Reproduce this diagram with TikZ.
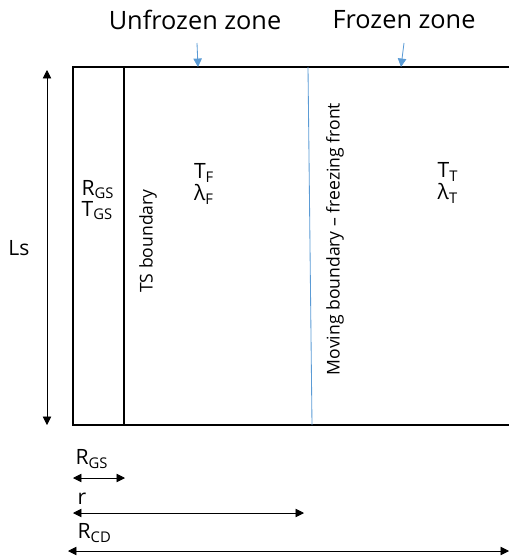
\documentclass[tikz,border=0pt]{standalone}
\usepackage{fontspec}
\setmainfont{Open Sans}
\usetikzlibrary{arrows.meta, positioning}
\definecolor{frontblue}{HTML}{5B9BD5}
\tikzset{
	lbl/.style={font=\fontsize{15}{17}\selectfont, inner sep=1pt},
	zonelbl/.style={font=\fontsize{18}{20}\selectfont, inner sep=1pt},
	sidelbl/.style={font=\fontsize{12.5}{14}\selectfont, rotate=90, inner sep=1pt},
	wall/.style={draw=black, line width=0.9pt},
	dimarrow/.style={{Triangle[length=6pt,width=6pt]}-{Triangle[length=6pt,width=6pt]}, line width=0.5pt},
	zonearrow/.style={-{Triangle[length=6pt,width=6pt]}, frontblue, line width=0.6pt}
}
\begin{document}
\begin{tikzpicture}[x=0.025cm, y=-0.025cm]
	\useasboundingbox (0,0) rectangle (509,559);
	
	%% ---- Domain corners ----
	\coordinate (tl) at (73,67);
	\coordinate (bl) at (73,425);
	\coordinate (tr) at (509,67);
	\coordinate (br) at (509,425);
	\coordinate (ts top) at (124,67);
	\coordinate (ts bot) at (124,425);
	\coordinate (mf top) at (308,67);
	\coordinate (mf bot) at (312,425);
	
	%% ---- Domain outline ----
	\draw[wall] (tr) -- (tl) -- (bl) -- (br);
	\draw[wall] (ts top) -- (ts bot);
	\draw[frontblue, line width=0.6pt] (mf top) -- (mf bot);
	
	%% ---- Zone labels (top) ----
	\node[zonelbl] (unfrozen) at (195,20) {Unfrozen zone};
	\node[zonelbl] (frozen) at (404,20) {Frozen zone};
	\coordinate (uf tip) at (198,67);
	\coordinate (fz tip) at (401,67);
	\coordinate (uf tail) at (197,43);
	\coordinate (fz tail) at (404,43);
	\draw[zonearrow] (uf tail) -- (uf tip);
	\draw[zonearrow] (fz tail) -- (fz tip);
	
	%% ---- Properties in each zone ----
	\node[lbl, align=left] (gs) at (98,200) {R\textsubscript{GS}\\[-2pt]T\textsubscript{GS}};
	\node[lbl, align=left] (uf) at (204,184) {T\textsubscript{F}\\[-1pt]λ\textsubscript{F}};
	\node[lbl, align=left] (fz) at (448,183) {T\textsubscript{T}\\[-1pt]λ\textsubscript{T}};
	
	%% ---- Boundary labels ----
	\node[sidelbl] (tsb) at (148,241) {TS boundary};
	\node[sidelbl] (mfb) at (335,239) {Moving boundary -- freezing front};
	
	%% ---- Height Ls ----
	\coordinate (ls top) at (47,70);
	\coordinate (ls bot) at (47,425);
	\draw[dimarrow] (ls top) -- (ls bot);
	\node[lbl] (ls) at (19,248) {Ls};
	
	%% ---- Radii (bottom) ----
	\coordinate (rgs a) at (73,478);
	\coordinate (rgs b) at (125,478);
	\coordinate (r a) at (73,513);
	\coordinate (r b) at (304,513);
	\coordinate (rcd a) at (68,551);
	\coordinate (rcd b) at (509,551);
	\draw[dimarrow] (rgs a) -- (rgs b);
	\draw[dimarrow] (r a) -- (r b);
	\draw[dimarrow] (rcd a) -- (rcd b);
	\node[lbl, anchor=south west] (rgs) at (74,470) {R\textsubscript{GS}};
	\node[lbl, anchor=south west] (r) at (76,506) {r};
	\node[lbl, anchor=south west] (rcd) at (76,544) {R\textsubscript{CD}};
	
\end{tikzpicture}
\end{document}
